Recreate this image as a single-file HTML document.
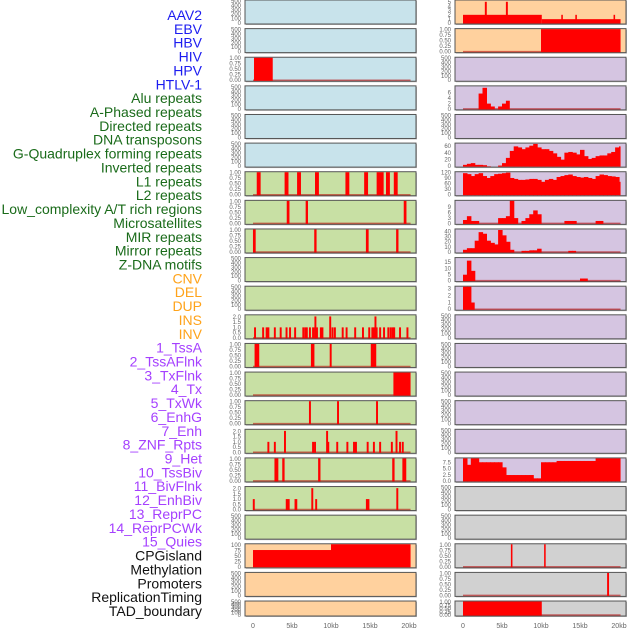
<!DOCTYPE html>
<html><head><meta charset="utf-8"><style>
html,body{margin:0;padding:0;background:#fff;width:630px;height:630px;overflow:hidden}
svg{display:block}
text{font-family:"Liberation Sans",sans-serif}
</style></head><body>
<svg id="chart" width="630" height="630" viewBox="0 0 630 630" xmlns="http://www.w3.org/2000/svg"></svg>
<script>
// ---------- data ----------
const featureLabels = ["AAV2","EBV","HBV","HIV","HPV","HTLV-1","Alu repeats","A-Phased repeats","Directed repeats","DNA transposons","G-Quadruplex forming repeats","Inverted repeats","L1 repeats","L2 repeats","Low_complexity A/T rich regions","Microsatellites","MIR repeats","Mirror repeats","Z-DNA motifs","CNV","DEL","DUP","INS","INV","1_TssA","2_TssAFlnk","3_TxFlnk","4_Tx","5_TxWk","6_EnhG","7_Enh","8_ZNF_Rpts","9_Het","10_TssBiv","11_BivFlnk","12_EnhBiv","13_ReprPC","14_ReprPCWk","15_Quies","CPGisland","Methylation","Promoters","ReplicationTiming","TAD_boundary"];
const labelGroups = [0,0,0,0,0,0,1,1,1,1,1,1,1,1,1,1,1,1,1,2,2,2,2,2,3,3,3,3,3,3,3,3,3,3,3,3,3,3,3,4,4,4,4,4];
const xTickLabels = ["0","5kb","10kb","15kb","20kb"];
const xTickValues = [0,5,10,15,20];

// left column spike panels: [kb position, value, width kb]
const hivRegion = [[0.13,1,2.4]];
const l1Spikes = [[0.73,1,0.5],[4.3,1,0.5],[5.9,1,0.5],[8.2,1,0.5],[12.1,1,0.5],[14.5,1,0.5],[16.3,1,0.9],[17.3,1,0.5],[18.3,1,0.5]];
const row7Spikes = [[4.5,1,0.35],[6.9,1,0.3],[19.5,1,0.35]];
const row8Spikes = [[0.17,1,0.35],[8.0,1,0.3],[14.65,1,0.35],[18.5,1,0.3]];
const insSpikes = [[0.26,1],[1.3,1],[1.75,1],[1.97,1],[2.8,1],[3.55,1],[4.3,1],[4.75,1],[5.4,1],[6.45,1],[6.7,1],[6.9,1],[7.3,1],[7.7,1],[7.95,1],[8.0,2],[8.2,1],[8.7,1],[8.9,1],[9.9,2],[10.2,1],[10.5,1],[11.5,1],[12.0,1],[13.1,1],[14.1,1],[14.9,1],[15.3,1],[15.5,1],[15.7,2],[15.85,1],[16.3,1],[16.8,1],[17.35,1],[17.65,1],[17.9,1],[18.1,1],[18.85,1],[19.8,1]];
const tssaSpikes = [[0.5,1,0.6],[7.65,1,0.45],[9.96,1,0.25],[15.45,1,0.7]];
const txflnkRegion = [[18.0,1,2.2]];
const row14Spikes = [[7.3,1,0.25],[10.9,1,0.25],[15.9,1,0.25]];
const row15Spikes = [[1.97,1],[2.8,1],[4.1,2],[7.7,1],[7.95,1],[9.5,2],[9.65,1],[10.8,1],[12.1,1],[12.95,1],[13.2,1],[14.7,1],[15.5,1],[16.3,1],[17.8,1],[18.4,2],[18.85,1],[19.2,1]];
const row16Spikes = [[3.0,1,0.5],[3.9,1,0.3],[8.5,1,0.3],[18.0,1,0.3],[19.4,1,0.5]];
const row17Spikes = [[0.1,1,0.25],[4.45,1,0.5],[5.5,1,0.35],[7.6,2,0.25],[8.1,1,0.25],[14.7,1,0.45],[18.5,2,0.25]];
const cpgSteps = [[0,75,10],[10,100,10.2]];

// right column
const aavSteps = [[0,2,10.1],[10.1,1,10.1],[2.8,5,0.25],[5.5,5,0.25],[12.6,2,0.2],[14.4,2,0.2],[19.3,2,0.2]];
const hbvSteps = [[10.0,1,10.2]];
// 0.5kb bins from 0
const aluBins = [0,0,0,0,5.5,7.5,2,1,0,1,2,3];
const gquadBins = [5,8,10,5,5,4,1,0,0,3,10,25,45,58,55,50,55,60,65,55,50,50,45,38,28,20,40,42,40,35,48,30,22,25,30,32,32,38,42,55,58];
const l1Bins = [115,110,100,110,115,100,90,100,110,112,115,118,90,85,80,80,82,85,85,80,70,80,85,80,95,100,105,108,100,95,92,95,90,85,100,108,105,100,98,95,70];
const row7Bins = [2,4,1.5,1.5,0,0,0,0,0,3,3,4,12,3,0,1.5,3,5,7,5,0,0,0,0,0,0,1.5,1.5,1.5,0,0,0,0,0,1.5,1.5];
const row8Bins = [5,8,8,22,38,35,22,18,15,42,32,20,5,0,0,3,3,4,4,7,0,0,0,0,0,0,0,3,3];
const row9Bins = [5,16,8,0,0,0,0,0,0,0,0,0,0,0,0,0,0,0,0,0,0,0,0,0,0,0,0,0,0,0,2,2];
const row10Bins = [3.2,3.2,1];
const row16Bins = [9,6.5,9,9,7.5,7.5,7.5,7.5,7.5,7.5,5.5,2.5,2.5,2.5,2.5,2.5,2.5,2.5,1.2,1.2,7.5,7.5,7.5,7.5,8,8,8,8,8,8,8,8,8,8,9,9,9,9,9,9,9];
const row19Spikes = [[6.24,1,0.2],[10.5,1,0.2]];
const row20Spikes = [[18.6,1,0.25]];
const tadRegion = [[0,1,10.1]];

// ---------- layout ----------
const svg = document.getElementById('chart');
const NS = 'http://www.w3.org/2000/svg';
function mk(tag, attrs, parent){const e=document.createElementNS(NS,tag);for(const k in attrs)e.setAttribute(k,attrs[k]);(parent||svg).appendChild(e);return e;}
const groupColors = ['#1c1cf0','#1a6b1a','#ffa31a','#a540ff','#111111'];
const BG = {blue:'#c8e3eb', green:'#c8e0a4', orange:'#ffd19e', purple:'#d5c5e1', gray:'#d1d1d1'};
const colX = [245,455];
const PW = 171;
function rowTop(r){return r*28.62;}
function rowH(r){return r===21?15:24;}
function xs(col,kb){return colX[col]+8+kb*7.8;}

// labels
featureLabels.forEach((t,i)=>{
  const el = mk('text',{x:202,y:15+i*13.86+5,'text-anchor':'end','font-size':'14',fill:groupColors[labelGroups[i]]});
  el.textContent = t;
  
  
});

function ticks(col,r,vals,fmt,max){
  const top=rowTop(r),h=rowH(r);
  vals.forEach(v=>{
    const y = top+h-1-(v/max)*(h-2);
    const t = mk('text',{x:colX[col]-4,y:y+2,'text-anchor':'end','font-size':'6',fill:'#666'});
    t.textContent = fmt(v);
    
    
  });
}
function panel(col,r,bg,name){
  const top=rowTop(r),h=rowH(r);
  mk('rect',{x:colX[col]+1,y:top+1,width:PW,height:h,fill:'#bbb'});
  const p = mk('rect',{x:colX[col],y:top,width:PW,height:h,fill:bg,stroke:'#555','stroke-width':1});
  
  
}
function baseline(col,r){
  const top=rowTop(r),h=rowH(r);
  mk('line',{x1:xs(col,0),x2:xs(col,20.2),y1:top+h-1,y2:top+h-1,stroke:'rgba(180,0,0,0.55)','stroke-width':1.5});
}
function bar(col,r,kb0,kb1,v,max,pad){
  const top=rowTop(r),h=rowH(r);
  const y = top+h-0.5-Math.min(v/max,1)*(h-1);
  const b = mk('rect',{x:xs(col,kb0),y:y,width:Math.max(xs(col,kb1)-xs(col,kb0),1)+(pad||0),height:top+h-0.5-y,fill:'#ff0000'});
  
  
}
function spikes(col,r,arr,max,defW){
  arr.forEach(s=>{const w=s[2]||defW;bar(col,r,s[0]-w/2,s[0]+w/2,s[1],max);});
}
function regions(col,r,arr,max){arr.forEach(s=>bar(col,r,s[0],s[0]+s[2],s[1],max));}
function bins(col,r,arr,max){arr.forEach((v,i)=>{if(v>0)bar(col,r,i*0.5,Math.min((i+1)*0.5,20.2),v,max,i<arr.length-1?0.6:0);});}
const emptyT=[0,100,200,300,400,500];
const f0=v=>String(v), f2=v=>v.toFixed(2), f1=v=>v.toFixed(1);
const unitT=[0,0.25,0.5,0.75,1];
const twoT=[0,0.5,1,1.5,2];

// left column
const leftBg = r=> r<6?BG.blue:(r<19?BG.green:BG.orange);
for(let r=0;r<22;r++){panel(0,r,leftBg(r),'left-panel-'+(r+1));}
const leftSpec = {
 2:()=>{ticks(0,2,unitT,f2,1);baseline(0,2);regions(0,2,hivRegion,1);},
 6:()=>{ticks(0,6,unitT,f2,1);baseline(0,6);spikes(0,6,l1Spikes,1,0.5);},
 7:()=>{ticks(0,7,unitT,f2,1);baseline(0,7);spikes(0,7,row7Spikes,1,0.3);},
 8:()=>{ticks(0,8,unitT,f2,1);baseline(0,8);spikes(0,8,row8Spikes,1,0.3);},
 11:()=>{ticks(0,11,twoT,f1,2.1);baseline(0,11);spikes(0,11,insSpikes,2.1,0.25);},
 12:()=>{ticks(0,12,unitT,f2,1);baseline(0,12);spikes(0,12,tssaSpikes,1,0.3);},
 13:()=>{ticks(0,13,unitT,f2,1);baseline(0,13);regions(0,13,txflnkRegion,1);},
 14:()=>{ticks(0,14,unitT,f2,1);baseline(0,14);spikes(0,14,row14Spikes,1,0.25);},
 15:()=>{ticks(0,15,twoT,f1,2.1);baseline(0,15);spikes(0,15,row15Spikes,2.1,0.25);},
 16:()=>{ticks(0,16,unitT,f2,1);baseline(0,16);spikes(0,16,row16Spikes,1,0.3);},
 17:()=>{ticks(0,17,twoT,f1,2.1);baseline(0,17);spikes(0,17,row17Spikes,2.1,0.25);},
 19:()=>{ticks(0,19,[0,25,50,75,100],f0,100);regions(0,19,cpgSteps,100);}
};
for(let r=0;r<22;r++){ if(leftSpec[r]) leftSpec[r](); else ticks(0,r,emptyT,f0,500); }

// right column
const rightBg = r=> r<2?BG.orange:(r<17?BG.purple:BG.gray);
for(let r=0;r<22;r++){panel(1,r,rightBg(r),'right-panel-'+(r+1));}
const rightSpec = {
 0:()=>{ticks(1,0,[0,1,2,3,4,5],f0,5.3);regions(1,0,aavSteps,5.3);},
 1:()=>{ticks(1,1,unitT,f2,1);baseline(1,1);regions(1,1,hbvSteps,1);},
 3:()=>{ticks(1,3,[0,2,4,6],f0,8);baseline(1,3);bins(1,3,aluBins,8);},
 5:()=>{ticks(1,5,[0,20,40,60],f0,66);bins(1,5,gquadBins,66);},
 6:()=>{ticks(1,6,[0,30,60,90,120],f0,120);bins(1,6,l1Bins,120);},
 7:()=>{ticks(1,7,[0,3,6,9],f0,12);baseline(1,7);bins(1,7,row7Bins,12);},
 8:()=>{ticks(1,8,[0,10,20,30,40],f0,43);baseline(1,8);bins(1,8,row8Bins,43);},
 9:()=>{ticks(1,9,[0,5,10,15],f0,18);baseline(1,9);bins(1,9,row9Bins,18);},
 10:()=>{ticks(1,10,[0,1,2,3],f0,3.2);baseline(1,10);bins(1,10,row10Bins,3.2);},
 16:()=>{ticks(1,16,[0,2.5,5,7.5],f1,9);bins(1,16,row16Bins,9);},
 19:()=>{ticks(1,19,unitT,f2,1);baseline(1,19);spikes(1,19,row19Spikes,1,0.2);},
 20:()=>{ticks(1,20,unitT,f2,1);baseline(1,20);spikes(1,20,row20Spikes,1,0.25);},
 21:()=>{ticks(1,21,unitT,f2,1);baseline(1,21);regions(1,21,tadRegion,1);}
};
for(let r=0;r<22;r++){ if(rightSpec[r]) rightSpec[r](); else ticks(1,r,emptyT,f0,500); }

// x axes
[0,1].forEach(col=>{
  xTickValues.forEach((v,i)=>{
    const t = mk('text',{x:xs(col,v),y:628,'text-anchor':'middle','font-size':'7',fill:'#666'});
    t.textContent = xTickLabels[i];
    
    
  });
});
</script>
</body></html>
